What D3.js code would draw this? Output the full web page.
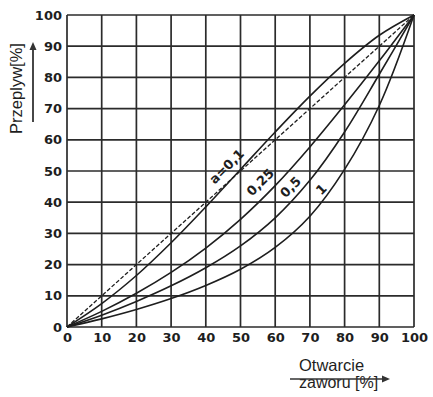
<!DOCTYPE html>
<html>
<head>
<meta charset="utf-8">
<script src="https://cdn.jsdelivr.net/npm/d3@7"></script>
<style>
  html, body { margin: 0; padding: 0; background: #ffffff; }
  svg { display: block; }
</style>
</head>
<body>
<svg id="chart" width="433" height="397"></svg>
<script>
// ---- data ----
const xTicks = [0, 10, 20, 30, 40, 50, 60, 70, 80, 90, 100];
const yTicks = [0, 10, 20, 30, 40, 50, 60, 70, 80, 90, 100];
const opening = [0, 10, 20, 30, 40, 50, 60, 70, 80, 90, 100];   // Otwarcie zaworu [%]
const flowLinear = [0, 10, 20, 30, 40, 50, 60, 70, 80, 90, 100]; // dashed reference
const flowA01  = [0, 7.5, 16.5, 27, 38.5, 50.5, 62.5, 74, 84.5, 93.5, 100];
const flowA025 = [0, 5, 10.8, 17.5, 25.3, 34.5, 45.3, 57.7, 71.2, 85.3, 100];
const flowA05  = [0, 3.8, 8.2, 13.2, 19, 26, 35, 47, 62.5, 81, 100];
const flowA1   = [0, 2.6, 5.6, 9.1, 13.3, 18.5, 25.5, 35.5, 50.5, 71, 100];
const curveNames = ["a=0,1", "0,25", "0,5", "1"];
const yTitle = "Przeplyw[%]";
const xTitle1 = "Otwarcie";
const xTitle2 = "zaworu [%]";

// ---- layout ----
const svg = d3.select("#chart");
const x = d3.scaleLinear().domain([0, 100]).range([67, 414]);
const y = d3.scaleLinear().domain([0, 100]).range([327, 15]);
const ink = "#1e1e1e";

// grid
const grid = svg.append("g");
grid.selectAll("line.v").data(xTicks).enter().append("line")
  .attr("x1", d => x(d)).attr("x2", d => x(d))
  .attr("y1", y(0)).attr("y2", y(100))
  .attr("stroke", "#2b2b2b").attr("stroke-width", 1.7);
grid.selectAll("line.h").data(yTicks).enter().append("line")
  .attr("y1", d => y(d)).attr("y2", d => y(d))
  .attr("x1", x(0)).attr("x2", x(100))
  .attr("stroke", "#2b2b2b").attr("stroke-width", 1.7);

// axes (tick labels only)
const tickFont = "'DejaVu Sans', sans-serif";
const yAxis = svg.append("g").attr("transform", `translate(${x(0)},0)`)
  .call(d3.axisLeft(y).tickValues(yTicks).tickSize(0).tickPadding(5));
const xAxis = svg.append("g").attr("transform", `translate(0,${y(0)})`)
  .call(d3.axisBottom(x).tickValues(xTicks).tickSize(0).tickPadding(6));
[xAxis, yAxis].forEach(g => {
  g.select(".domain").remove();
  g.selectAll("text").attr("font-family", tickFont).attr("font-weight", "bold")
    .attr("font-size", 13).attr("fill", ink);
});

// curves
const line = d3.line().x(d => x(d[0])).y(d => y(d[1])).curve(d3.curveCatmullRom.alpha(0.5));
const pairs = arr => opening.map((o, i) => [o, arr[i]]);
svg.append("path").attr("d", d3.line().x(d => x(d[0])).y(d => y(d[1]))(pairs(flowLinear)))
  .attr("fill", "none").attr("stroke", ink).attr("stroke-width", 1.3)
  .attr("stroke-dasharray", "4,2");
[flowA01, flowA025, flowA05, flowA1].forEach(s => {
  svg.append("path").attr("d", line(pairs(s)))
    .attr("fill", "none").attr("stroke", ink).attr("stroke-width", 1.6);
});

// curve labels (anchored in data coordinates)
const labelPos = [[46.2, 51.2], [55.9, 46.2], [64.6, 44.6], [73.5, 43.9]];
svg.selectAll("text.cl").data(curveNames).enter().append("text")
  .attr("class", "cl")
  .attr("transform", (d, i) => `translate(${x(labelPos[i][0])},${y(labelPos[i][1])}) rotate(-45)`)
  .attr("text-anchor", "middle").attr("dominant-baseline", "middle")
  .attr("font-family", tickFont).attr("font-weight", "bold").attr("font-size", 13)
  .attr("fill", ink).text(d => d);

// axis titles with arrows
const titleFont = "'Liberation Sans', Arial, sans-serif";
svg.append("text")
  .attr("transform", "translate(22,88.5) rotate(-90)")
  .attr("text-anchor", "middle")
  .attr("font-family", titleFont).attr("font-size", 16.5).attr("fill", ink)
  .text(yTitle);
svg.append("line").attr("x1", 33).attr("x2", 33).attr("y1", 122).attr("y2", 49)
  .attr("stroke", "#333").attr("stroke-width", 1.8);
svg.append("path").attr("d", "M33,42 L29.5,50 L36.5,50 Z").attr("fill", "#333");

svg.append("text").attr("x", 299).attr("y", 371)
  .attr("font-family", titleFont).attr("font-size", 16.5).attr("fill", ink)
  .text(xTitle1);
svg.append("text").attr("x", 299).attr("y", 388)
  .attr("font-family", titleFont).attr("font-size", 16).attr("fill", ink)
  .text(xTitle2);
svg.append("line").attr("x1", 290).attr("x2", 384).attr("y1", 379).attr("y2", 379)
  .attr("stroke", "#333").attr("stroke-width", 1.5);
svg.append("path").attr("d", "M390,379 L382,375.5 L382,382.5 Z").attr("fill", "#333");
</script>
</body>
</html>
